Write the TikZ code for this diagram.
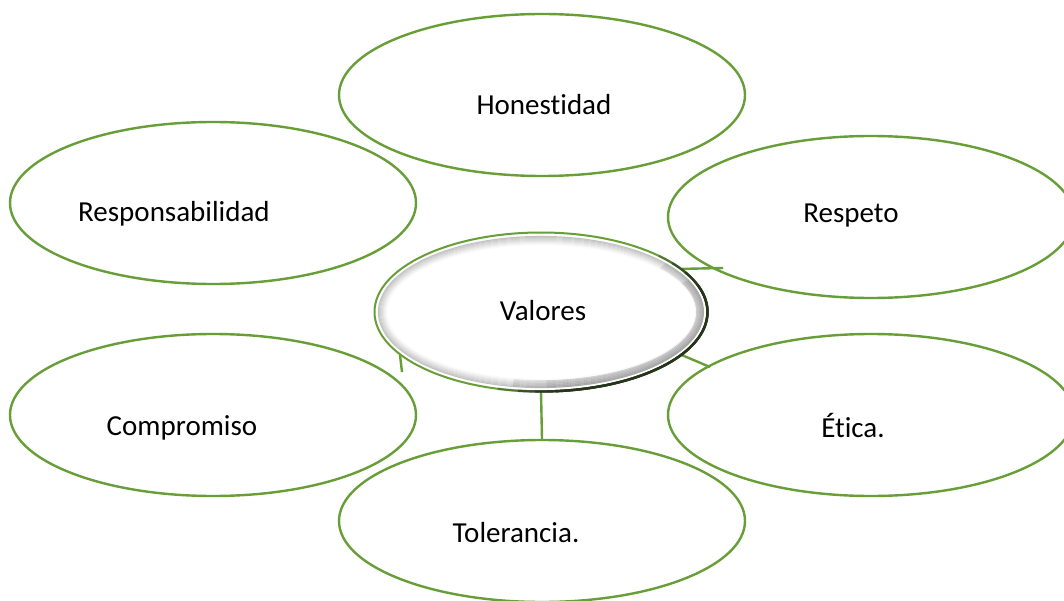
\documentclass[tikz,border=0pt]{standalone}
\usepackage{fontspec}
\setmainfont{Carlito}[RawFeature=-liga]
\usetikzlibrary{shapes.geometric}
\definecolor{leaf}{RGB}{104,158,56}
\definecolor{darkleaf}{RGB}{38,52,26}
\tikzset{
  bubble/.style={ellipse, draw=leaf, line width=2.4pt, fill=white, inner sep=0pt,
    minimum width=406pt, minimum height=162pt},
  lbl/.style={anchor=base, inner sep=0pt, font=\fontsize{29}{34}\selectfont},
  link/.style={draw=leaf, line width=2.4pt}
}
\begin{document}
\begin{tikzpicture}[x=1pt,y=-1pt]
\useasboundingbox (0,0) rectangle (1064,601);
\fill[white] (0,0) rectangle (1064,601);
% outer bubbles
\node[bubble] (hon) at (542,95) {};
\node[bubble] (res) at (213,203) {};
\node[bubble] (rsp) at (871,217) {};
\node[bubble] (com) at (213,415) {};
\node[bubble] (eti) at (871,415) {};
\node[bubble] (tol) at (542,521) {};
% central shape geometry
\node[ellipse, inner sep=0pt, minimum width=334pt, minimum height=160pt] (val) at (541,312) {};
% connectors
\coordinate (rspend) at (723,268);
\coordinate (etiend) at (710,367);
\coordinate (comend) at (402,372);
\draw[link] (val.17.6) -- (rspend);
\draw[link] (val.-17.7) -- (etiend);
\draw[link] (val.south) -- (tol.north);
\draw[link] (val.197.6) -- (comend);
% central bubble with shaded rim
\fill[white] (541,312) ellipse [x radius=167, y radius=80];
\foreach \i in {0,...,8}{
  \pgfmathsetmacro{\g}{int(24-2.7*\i)}
  \draw[black!\g, line width=1.2pt] (541,312) ellipse [x radius=162.5-\i, y radius=75.5-\i];
}
% soft extra shadow on lower right
\foreach \r in {162,160.5,159,157.5,156}{
  \foreach \a/\b in {-40/100,-25/88}{
    \draw[black, line width=1.6pt, opacity=0.07] ([shift={(\a:\r+0 and \r-87)}]541,312) arc [start angle=\a, end angle=\b, x radius=\r, y radius=\r-87];
  }
}
\draw[white, line width=1.4pt] (541,312) ellipse [x radius=164.5, y radius=77.5];
\draw[leaf, line width=2pt] (541,312) ellipse [x radius=166.5, y radius=79.5];
\foreach \a/\b/\op in {-45/105/0.35,-38/98/0.55,-30/92/0.8,-20/85/1}{
  \draw[darkleaf, line width=2.4pt, opacity=\op] ([shift={(\a:166.5 and 79.5)}]541,312) arc [start angle=\a, end angle=\b, x radius=166.5, y radius=79.5];
}
% labels
\node[lbl] (thon) at (544,115) {Honestidad};
\node[lbl] (tres) at (174,222) {Responsabilidad};
\node[lbl] (trsp) at (851,223) {Respeto};
\node[lbl] (tval) at (543,320) {Valores};
\node[lbl] (tcom) at (182,435) {Compromiso};
\node[lbl] (teti) at (853,437) {Ética.};
\node[lbl] (ttol) at (516,542) {Tolerancia.};
\end{tikzpicture}
\end{document}
